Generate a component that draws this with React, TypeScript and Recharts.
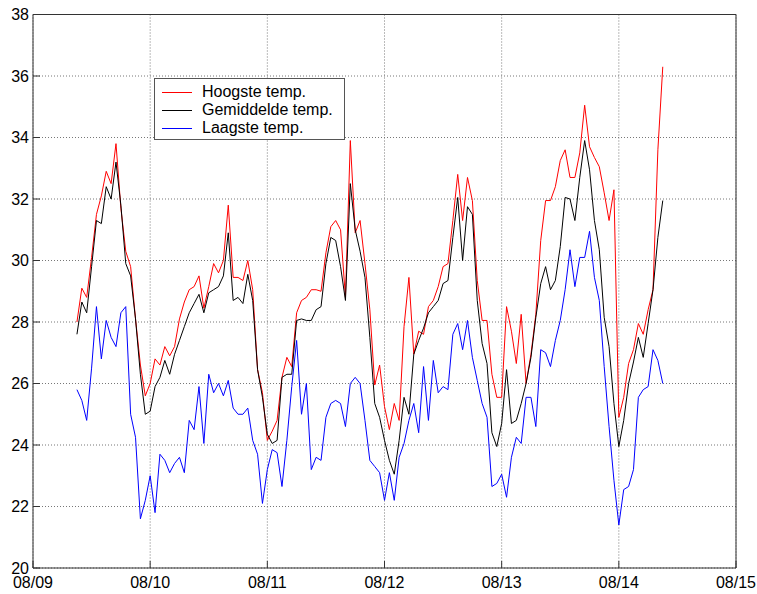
import React from 'react';
import { LineChart, Line, XAxis, YAxis, CartesianGrid, Legend } from 'recharts';

// hours counted from 08/09 00:00, one reading per hour
const START_HOUR = 9;

const dayTicks = [0, 24, 48, 72, 96, 120, 144];
const dayLabels = ['08/09', '08/10', '08/11', '08/12', '08/13', '08/14', '08/15'];
const tempTicks = [20, 22, 24, 26, 28, 30, 32, 34, 36, 38];

const hoogste = [
  28.0, 29.1, 28.8, 30.1, 31.5, 32.1, 32.9, 32.5, 33.8, 31.7,
  30.3, 29.8, 28.1, 26.6, 25.6, 26.0, 26.8, 26.6, 27.2, 26.9,
  27.2, 28.1, 28.65, 29.05, 29.15, 29.5, 28.45, 29.15, 29.9, 29.6,
  30.0, 31.8, 29.45, 29.45, 29.35, 30.0, 29.05, 26.45, 25.7, 24.15,
  24.45, 24.8, 26.2, 26.85, 26.55, 28.3, 28.7, 28.8, 29.05, 29.05,
  29.0, 30.25, 31.1, 31.3, 31.0, 28.8, 33.9, 30.9, 31.3, 29.9,
  28.4, 25.95, 26.6, 25.25, 24.5, 25.35, 24.8, 27.85, 29.45, 26.95,
  27.7, 27.6, 28.5, 28.7, 29.15, 29.8, 29.9, 31.3, 32.8, 31.3,
  32.7, 31.95, 29.35, 28.05, 28.05, 26.3, 25.55, 25.55, 28.5, 27.7,
  26.65, 28.25, 26.0, 26.95, 28.25, 30.65, 31.95, 31.95, 32.4, 33.25,
  33.6, 32.7, 32.7, 33.5, 35.05, 33.7, 33.35, 33.05, 32.2, 31.3,
  32.3, 24.9, 25.55, 26.65, 27.1, 27.95, 27.6, 28.4, 29.05, 33.6,
  36.3,
];

const gemiddelde = [
  27.6, 28.65, 28.3, 29.8, 31.3, 31.2, 32.4, 32.0, 33.2, 31.8,
  29.9, 29.5, 28.1, 26.3, 25.0, 25.1, 25.9, 26.2, 26.75, 26.3,
  26.95, 27.4, 27.85, 28.3, 28.6, 28.9, 28.3, 28.95, 29.05, 29.15,
  29.5, 30.9, 28.7, 28.8, 28.6, 29.55, 28.7, 26.45, 25.55, 24.35,
  24.05, 24.15, 26.2, 26.3, 26.3, 28.05, 28.1, 28.05, 28.05, 28.4,
  28.5, 29.9, 30.75, 30.65, 29.8, 28.7, 32.5, 31.0, 30.3, 29.45,
  27.5, 25.35, 24.9, 24.15, 23.5, 23.05, 24.15, 25.55, 25.0, 26.95,
  27.4, 27.8, 28.3, 28.5, 28.7, 29.25, 29.35, 30.75, 32.05, 30.0,
  31.75, 31.5, 28.7, 27.3, 26.65, 24.4, 23.95, 24.7, 26.45, 24.7,
  24.8, 25.35, 26.0, 26.85, 28.15, 29.25, 29.8, 29.05, 29.35, 30.45,
  32.05, 32.0, 31.3, 32.7, 33.9, 32.95, 31.3, 30.35, 28.15, 27.2,
  25.35, 23.95, 24.8, 26.0, 26.7, 27.5, 26.85, 27.95, 29.05, 30.75,
  31.95,
];

const laagste = [
  25.8, 25.45, 24.8, 26.5, 28.5, 26.8, 28.05, 27.5, 27.2, 28.3,
  28.5, 25.0, 24.25, 21.6, 22.2, 23.0, 21.8, 23.7, 23.5, 23.1,
  23.4, 23.6, 23.1, 24.8, 24.5, 25.9, 24.05, 26.3, 25.7, 26.0,
  25.6, 26.1, 25.2, 25.0, 25.0, 25.2, 24.15, 23.7, 22.1, 23.2,
  23.85, 23.75, 22.65, 24.15, 25.9, 27.4, 25.0, 26.0, 23.2, 23.6,
  23.5, 24.9, 25.35, 25.45, 25.35, 24.6, 26.0, 26.2, 26.0, 24.8,
  23.5, 23.3, 23.1, 22.2, 23.1, 22.2, 23.6, 24.05, 24.8, 25.35,
  24.4, 26.55, 24.8, 26.75, 25.7, 25.9, 25.8, 27.6, 27.95, 27.1,
  28.05, 26.85, 26.1, 25.35, 24.9, 22.65, 22.75, 23.05, 22.3, 23.6,
  24.25, 24.05, 25.55, 25.55, 24.6, 27.1, 27.0, 26.55, 27.4, 28.05,
  29.05, 30.35, 29.15, 30.1, 30.1, 30.95, 29.45, 28.7, 26.55, 24.6,
  22.85, 21.4, 22.55, 22.65, 23.2, 25.55, 25.8, 25.9, 27.1, 26.75,
  26.0,
];

const series = [
  { key: 'hoogste', name: 'Hoogste temp.', color: '#ff0000' },
  { key: 'gemiddelde', name: 'Gemiddelde temp.', color: '#000000' },
  { key: 'laagste', name: 'Laagste temp.', color: '#0000ff' },
];

const data = hoogste.map((v, i) => ({
  hour: START_HOUR + i,
  hoogste: v,
  gemiddelde: gemiddelde[i],
  laagste: laagste[i],
}));

const FONT = '"Liberation Sans", Arial, Helvetica, sans-serif';
const AXIS = '#333333';

const LegendBox = () => (
  <div
    style={{
      position: 'relative',
      boxSizing: 'border-box',
      width: 191,
      height: 62,
      border: '1px solid #555',
      background: '#fff',
      fontFamily: FONT,
      fontSize: 16,
      color: '#000',
    }}
  >
    {series.map((s, i) => (
      <React.Fragment key={s.key}>
        <div
          style={{
            position: 'absolute',
            left: 7,
            top: 13 + i * 18,
            width: 30,
            height: 1,
            backgroundColor: s.color,
          }}
        />
        <div
          style={{
            position: 'absolute',
            left: 47,
            top: 4 + i * 18,
            height: 18,
            lineHeight: '18px',
            whiteSpace: 'nowrap',
          }}
        >
          {s.name}
        </div>
      </React.Fragment>
    ))}
  </div>
);

export default function App() {
  return (
    <div style={{ position: 'absolute', left: 0, top: 0, width: 757, height: 594, background: '#fff' }}>
      <LineChart width={757} height={594} data={data} margin={{ top: 13.5, right: 20, bottom: 0, left: 0 }}>
        <CartesianGrid xAxisId="b" yAxisId="l" stroke="#777" strokeDasharray="1 2" />
        <XAxis
          xAxisId="b"
          dataKey="hour"
          type="number"
          domain={[0, 144]}
          ticks={dayTicks}
          interval={0}
          tickFormatter={(v: number) => dayLabels[v / 24]}
          height={26}
          tickSize={-7}
          tickMargin={16}
          stroke={AXIS}
          tick={{ fill: '#000', fontSize: 16, fontFamily: FONT }}
        />
        <XAxis
          xAxisId="t"
          orientation="top"
          dataKey="hour"
          type="number"
          domain={[0, 144]}
          ticks={dayTicks}
          interval={0}
          height={1}
          tickSize={-7}
          tick={false}
          stroke={AXIS}
        />
        <YAxis
          yAxisId="l"
          type="number"
          domain={[20, 38]}
          ticks={tempTicks}
          interval={0}
          width={33}
          tickSize={-7}
          tickMargin={11}
          stroke={AXIS}
          tick={{ fill: '#000', fontSize: 16, fontFamily: FONT }}
        />
        <YAxis
          yAxisId="r"
          orientation="right"
          type="number"
          domain={[20, 38]}
          ticks={tempTicks}
          interval={0}
          width={1}
          tickSize={-7}
          tick={false}
          stroke={AXIS}
        />
        <Legend
          layout="vertical"
          align="center"
          verticalAlign="middle"
          wrapperStyle={{ left: 154, top: 78, width: 191, height: 62 }}
          content={() => <LegendBox />}
        />
        {series.map((s) => (
          <Line
            key={s.key}
            xAxisId="b"
            yAxisId="l"
            type="linear"
            dataKey={s.key}
            name={s.name}
            stroke={s.color}
            strokeWidth={1}
            dot={false}
            activeDot={false}
            isAnimationActive={false}
          />
        ))}
      </LineChart>
    </div>
  );
}
